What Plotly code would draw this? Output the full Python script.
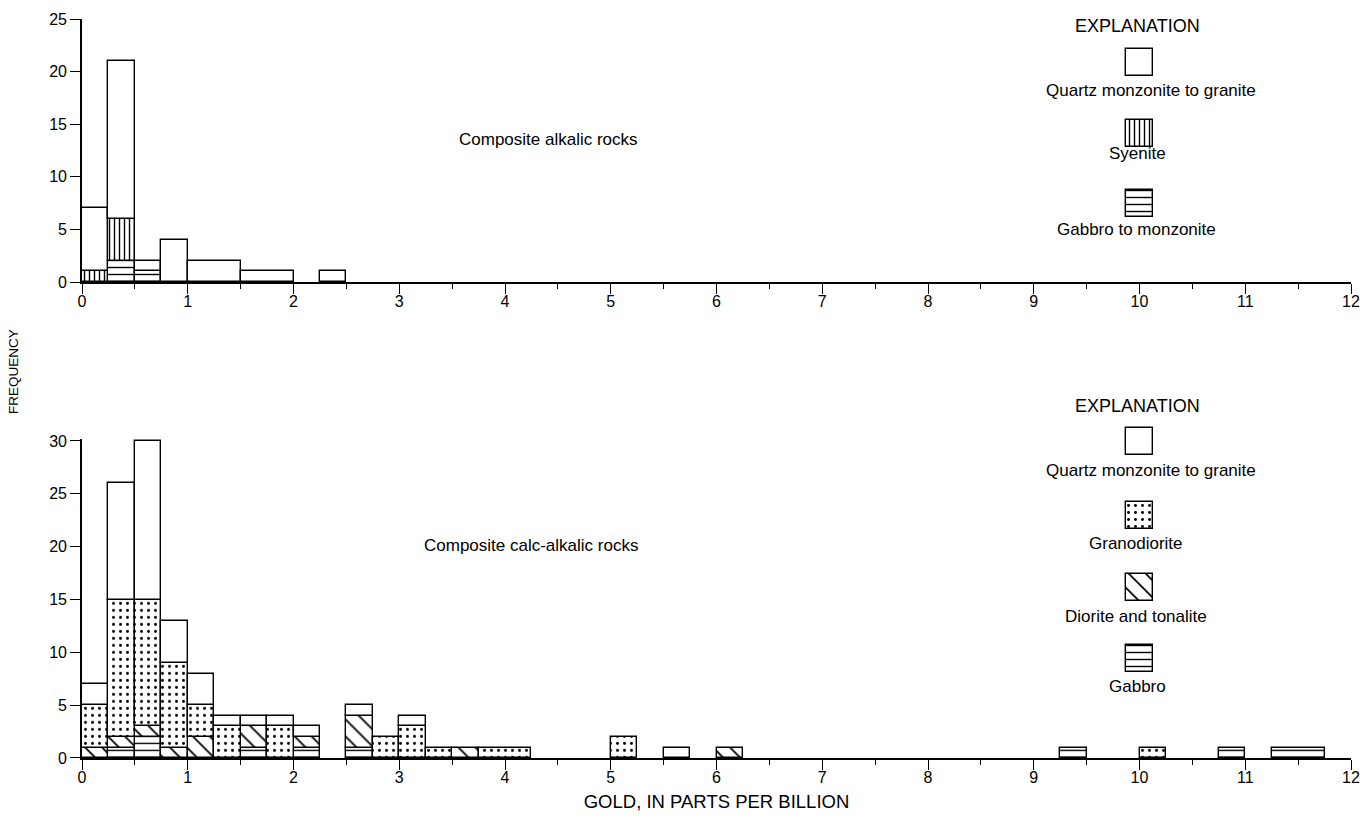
import numpy as np
import plotly.graph_objects as go

# ---------------- DATA ----------------
# Upper panel: Composite alkalic rocks (bin left edge, bin width in ppb)
top_bin_left = [0.0, 0.25, 0.5, 0.75, 1.0, 1.5, 2.25]
top_bin_width = [0.25, 0.25, 0.25, 0.25, 0.5, 0.5, 0.25]
top_gabbro_monzonite = [0, 2, 1, 0, 0, 0, 0]
top_syenite = [1, 4, 0, 0, 0, 0, 0]
top_quartz_granite = [6, 15, 1, 4, 2, 1, 1]

# Lower panel: Composite calc-alkalic rocks
bot_bin_left = [0.0, 0.25, 0.5, 0.75, 1.0, 1.25, 1.5, 1.75, 2.0, 2.5, 2.75,
                3.0, 3.25, 3.5, 3.75, 5.0, 5.5, 6.0, 9.25, 10.0, 10.75, 11.25]
bot_bin_width = [0.25, 0.25, 0.25, 0.25, 0.25, 0.25, 0.25, 0.25, 0.25, 0.25, 0.25,
                 0.25, 0.25, 0.25, 0.5, 0.25, 0.25, 0.25, 0.25, 0.25, 0.25, 0.5]
bot_gabbro = [0, 1, 2, 0, 0, 0, 1, 0, 1, 1, 0, 0, 0, 0, 0, 0, 0, 0, 1, 0, 1, 1]
bot_diorite = [1, 1, 1, 1, 2, 0, 2, 0, 1, 3, 0, 0, 0, 1, 0, 0, 0, 1, 0, 0, 0, 0]
bot_granodiorite = [4, 13, 12, 8, 3, 3, 0, 3, 0, 0, 2, 3, 1, 0, 1, 2, 0, 0, 0, 1, 0, 0]
bot_quartz_granite = [2, 11, 15, 4, 3, 1, 1, 1, 1, 1, 0, 1, 0, 0, 0, 0, 1, 0, 0, 0, 0, 0]

x_ticks = list(range(0, 13))
top_y_ticks = [0, 5, 10, 15, 20, 25]
bot_y_ticks = [0, 5, 10, 15, 20, 25, 30]

top_legend_labels = ["Quartz monzonite to granite", "Syenite", "Gabbro to monzonite"]
bot_legend_labels = ["Quartz monzonite to granite", "Granodiorite",
                     "Diorite and tonalite", "Gabbro"]

# ---------------- STYLES ----------------
FONT = "Liberation Sans, Arial, sans-serif"
LINE_W = 1.4
TXT = 17


def pat(shape, size=6, solidity=0.2):
    if shape == "":
        return dict(shape="")
    return dict(shape=shape, size=size, solidity=solidity,
                fgcolor="black", bgcolor="white", fillmode="replace")


P_QUARTZ = pat("")
P_SYENITE = pat("|", 5, 0.28)
P_GABBRO = pat("-", 7, 0.2)
P_DIORITE = pat("\\", 12, 0.15)
P_GRANO = pat(".", 7, 0.14)

fig = go.Figure()


def add_stack(left, width, layers, xa, ya):
    left = np.asarray(left, float)
    width = np.asarray(width, float)
    centers = left + width / 2
    base = np.zeros(len(left))
    for vals, p, name in layers:
        v = np.asarray(vals, float)
        m = v > 0
        fig.add_trace(go.Bar(
            x=centers[m], y=v[m], base=base[m], width=width[m],
            marker=dict(color="white", line=dict(color="black", width=LINE_W), pattern=p),
            xaxis=xa, yaxis=ya, name=name, showlegend=False, hoverinfo="skip"))
        base = base + v


add_stack(top_bin_left, top_bin_width,
          [(top_gabbro_monzonite, P_GABBRO, "Gabbro to monzonite"),
           (top_syenite, P_SYENITE, "Syenite"),
           (top_quartz_granite, P_QUARTZ, "Quartz monzonite to granite")], "x", "y")

add_stack(bot_bin_left, bot_bin_width,
          [(bot_gabbro, P_GABBRO, "Gabbro"),
           (bot_diorite, P_DIORITE, "Diorite and tonalite"),
           (bot_granodiorite, P_GRANO, "Granodiorite"),
           (bot_quartz_granite, P_QUARTZ, "Quartz monzonite to granite")], "x2", "y2")

# ---------------- PAGE GEOMETRY ----------------
W, H = 1360, 827
PX_L, PX_R = 82, 1351          # px of x = 0 and x = 12
PX_T, PX_B = 19, 758           # px of top of upper panel and bottom of lower panel
ML, MT, MR, MB = PX_L, PX_T, W - PX_R, H - PX_B
PH = PX_B - PX_T

TOP_ZERO_PX, TOP_MAX = 282, 25
BOT_TOP_TICK_PX, BOT_MAX = 441, 30
BOT_PAD = 0.2                  # small headroom so the top edge of a 30-high bar is not clipped
bot_scale = (PX_B - BOT_TOP_TICK_PX) / BOT_MAX


def paper_y(px):
    return (PX_B - px) / PH


# ---------------- LEGEND ("EXPLANATION") on a pixel-unit overlay axis ----------------
SW_X, SW_W = 1139, 27
top_legend = dict(title_y=26, swatch_tops=[49, 120, 190], label_y=[90, 153, 229],
                  label_x=[1151, 1137, 1136], patterns=[P_QUARTZ, P_SYENITE, P_GABBRO])
bot_legend = dict(title_y=406, swatch_tops=[428, 502, 574, 645], label_y=[470, 543, 616, 686],
                  label_x=[1151, 1136, 1136, 1137],
                  patterns=[P_QUARTZ, P_GRANO, P_DIORITE, P_GABBRO])

annotations = []
for lg, labels in ((top_legend, top_legend_labels), (bot_legend, bot_legend_labels)):
    annotations.append(dict(x=1137, y=lg["title_y"], xref="x3", yref="y3", text="EXPLANATION",
                            showarrow=False, font=dict(family=FONT, size=18, color="black")))
    for top, p, lab, ly, lx in zip(lg["swatch_tops"], lg["patterns"], labels,
                                   lg["label_y"], lg["label_x"]):
        fig.add_trace(go.Bar(
            x=[SW_X], y=[SW_W], base=[top], width=[SW_W],
            marker=dict(color="white", line=dict(color="black", width=LINE_W), pattern=p),
            xaxis="x3", yaxis="y3", showlegend=False, hoverinfo="skip"))
        annotations.append(dict(x=lx, y=ly, xref="x3", yref="y3", text=lab, showarrow=False,
                                font=dict(family=FONT, size=TXT, color="black")))

annotations += [
    dict(x=4.41, y=13.5, xref="x", yref="y", text="Composite alkalic rocks", showarrow=False,
         font=dict(family=FONT, size=TXT, color="black")),
    dict(x=4.25, y=20.15, xref="x2", yref="y2", text="Composite calc-alkalic rocks",
         showarrow=False, font=dict(family=FONT, size=TXT, color="black")),
    dict(x=(14 - PX_L) / (PX_R - PX_L), y=paper_y(372), xref="paper", yref="paper",
         xanchor="center", yanchor="middle",
         text="FREQUENCY", textangle=-90,
         showarrow=False, font=dict(family=FONT, size=13.5, color="black")),
]


def xaxis_cfg(anchor, title=None):
    d = dict(range=[0, 12], tickvals=x_ticks, ticks="outside", ticklen=10, tickwidth=1.4,
             tickcolor="black", showline=True, linecolor="black", linewidth=1.6,
             showgrid=False, zeroline=False, anchor=anchor, domain=[0, 1], automargin=False,
             ticklabelstandoff=-6,
             tickfont=dict(family=FONT, size=16, color="black"),
             minor=dict(dtick=0.5, tick0=0, ticks="outside", ticklen=5, tickwidth=1.4,
                        tickcolor="black", showgrid=False))
    if title:
        d["title"] = dict(text=title, standoff=10, font=dict(family=FONT, size=18.5, color="black"))
    return d


def yaxis_cfg(anchor, rng, ticks, domain):
    return dict(range=rng, tickvals=ticks, ticks="outside", ticklen=10, tickwidth=1.4,
                tickcolor="black", showline=True, linecolor="black", linewidth=1.6,
                showgrid=False, zeroline=False, anchor=anchor, domain=domain, automargin=False,
                tickfont=dict(family=FONT, size=16, color="black"))


fig.update_layout(
    width=W, height=H, autosize=False,
    margin=dict(l=ML, r=MR, t=MT, b=MB),
    paper_bgcolor="white", plot_bgcolor="rgba(0,0,0,0)",
    barmode="overlay", bargap=0, showlegend=False,
    xaxis=xaxis_cfg("y"),
    yaxis=yaxis_cfg("x", [0, TOP_MAX], top_y_ticks, [paper_y(TOP_ZERO_PX), 1]),
    xaxis2=xaxis_cfg("y2", "GOLD, IN PARTS PER BILLION"),
    yaxis2=yaxis_cfg("x2", [0, BOT_MAX + BOT_PAD], bot_y_ticks,
                     [0, paper_y(PX_B - (BOT_MAX + BOT_PAD) * bot_scale)]),
    xaxis3=dict(range=[PX_L, PX_R], domain=[0, 1], anchor="y3", visible=False, fixedrange=True),
    yaxis3=dict(range=[PX_B, PX_T], domain=[0, 1], anchor="x3", visible=False, fixedrange=True),
    annotations=annotations,
)

fig.write_html("out.html", config={"displayModeBar": False},
               post_script="document.body.style.margin='0';"
                           "document.body.style.overflow='hidden';")
